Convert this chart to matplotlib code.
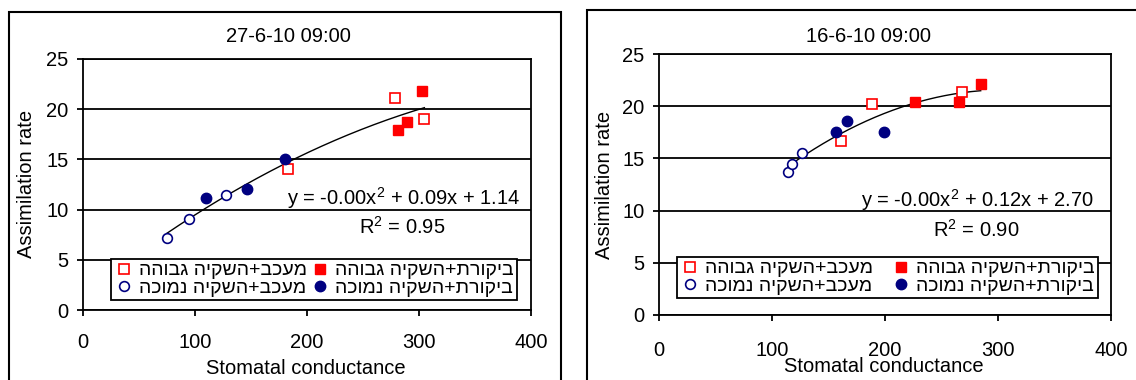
import numpy as np
import matplotlib
matplotlib.use("Agg")
import matplotlib.pyplot as plt
from matplotlib.lines import Line2D
from matplotlib.patches import Rectangle

plt.rcParams['font.family'] = ['Liberation Sans', 'DejaVu Sans']
plt.rcParams['mathtext.fontset'] = 'custom'
plt.rcParams['mathtext.rm'] = 'Liberation Sans'
plt.rcParams['mathtext.it'] = 'Liberation Sans'
plt.rcParams['mathtext.default'] = 'regular'

# ---- data -------------------------------------------------------------
series_names = ["מעכב+השקיה גבוהה", "מעכב+השקיה נמוכה",
                "ביקורת+השקיה גבוהה", "ביקורת+השקיה נמוכה"]

# 27-6-10 09:00
a_inh_high_x = [278.6, 304.8, 183.0]
a_inh_high_y = [21.1, 19.0, 14.07]
a_inh_low_x = [74.7, 94.4, 127.7]
a_inh_low_y = [7.14, 9.1, 11.45]
a_ctl_high_x = [302.4, 289.6, 281.5]
a_ctl_high_y = [21.8, 18.7, 17.9]
a_ctl_low_x = [109.8, 146.7, 180.1]
a_ctl_low_y = [11.15, 12.05, 15.0]

# 16-6-10 09:00
b_inh_high_x = [188.2, 161.1, 268.4]
b_inh_high_y = [20.24, 16.67, 21.39]
b_inh_low_x = [114.2, 118.0, 126.8]
b_inh_low_y = [13.73, 14.43, 15.49]
b_ctl_high_x = [226.8, 265.2, 284.7]
b_ctl_high_y = [20.4, 20.37, 22.16]
b_ctl_low_x = [156.9, 166.4, 199.4]
b_ctl_low_y = [17.56, 18.58, 17.56]

titles = ["27-6-10 09:00", "16-6-10 09:00"]
equations = ["y = -0.00x$^{2}$ + 0.09x + 1.14", "y = -0.00x$^{2}$ + 0.12x + 2.70"]
r2_labels = ["R$^{2}$ = 0.95", "R$^{2}$ = 0.90"]
x_ticks = [0, 100, 200, 300, 400]
y_ticks = [0, 5, 10, 15, 20, 25]
x_label = "Stomatal conductance"
y_label = "Assimilation rate"

RED = "#FF0000"
NAVY = "#000080"
W, H = 1136, 380


def visual(s):
    # matplotlib has no bidi support: lay Hebrew out right-to-left by hand
    return s[::-1]


fig = plt.figure(figsize=(W / 100, H / 100), dpi=100)
fig.patch.set_facecolor("white")


def px(x0, y0, x1, y1):
    return [x0 / W, 1 - y1 / H, (x1 - x0) / W, (y1 - y0) / H]


# outer chart borders
fig.add_artist(Rectangle((9 / W, -0.05), (561 - 9) / W, 1 - 12 / H + 0.05,
                         transform=fig.transFigure, fill=False,
                         edgecolor="black", lw=1.5))
fig.add_artist(Rectangle((587 / W, -0.05), 0.5, 1 - 10 / H + 0.05,
                         transform=fig.transFigure, fill=False,
                         edgecolor="black", lw=1.5))

panels = [
    dict(rect=px(83, 59, 531, 310),
         data=[(a_inh_high_x, a_inh_high_y), (a_inh_low_x, a_inh_low_y),
               (a_ctl_high_x, a_ctl_high_y), (a_ctl_low_x, a_ctl_low_y)],
         title_xy=(288, 37), ylab_xy=(27, 184), xlab_xy=(306, 368),
         tickpad=12, eq_xy=(520, 198), r2_xy=(402, 227),
         leg=(111, 250, 517, 300)),
    dict(rect=px(659, 54, 1111, 315),
         data=[(b_inh_high_x, b_inh_high_y), (b_inh_low_x, b_inh_low_y),
               (b_ctl_high_x, b_ctl_high_y), (b_ctl_low_x, b_ctl_low_y)],
         title_xy=(868, 36), ylab_xy=(604, 185), xlab_xy=(884, 367),
         tickpad=14, eq_xy=(1094, 200), r2_xy=(976, 230),
         leg=(677, 247, 1098, 298)),
]

styles = [
    dict(marker="s", mfc="white", mec=RED, ms=7, mew=1.2),
    dict(marker="o", mfc="white", mec=NAVY, ms=7, mew=1.2),
    dict(marker="s", mfc=RED, mec=RED, ms=7.5, mew=1.0),
    dict(marker="o", mfc=NAVY, mec=NAVY, ms=7.5, mew=1.0),
]

FS = 14.5

for i, p in enumerate(panels):
    ax = fig.add_axes(p["rect"])
    ax.set_xlim(0, 400)
    ax.set_ylim(0, 25)
    ax.set_xticks(x_ticks)
    ax.set_yticks(y_ticks)
    ax.tick_params(axis="both", direction="out", length=4.5, width=1.3,
                   labelsize=FS, color="black")
    ax.tick_params(axis="y", pad=6)
    ax.tick_params(axis="x", pad=p["tickpad"])
    for sp in ax.spines.values():
        sp.set_linewidth(1.3)
        sp.set_color("black")
    ax.yaxis.grid(True, color="black", lw=1.3)
    ax.set_axisbelow(True)

    all_x, all_y = [], []
    handles = []
    for (xs, ys), st in zip(p["data"], styles):
        ax.plot(xs, ys, ls="none", zorder=3, **st)
        handles.append(Line2D([], [], ls="none", **st))
        all_x += xs
        all_y += ys

    # second-order polynomial trend line
    coef = np.polyfit(all_x, all_y, 2)
    xx = np.linspace(min(all_x), max(all_x), 200)
    ax.plot(xx, np.polyval(coef, xx), color="black", lw=1.0, zorder=2)

    fig.text(p["eq_xy"][0] / W, 1 - p["eq_xy"][1] / H, equations[i],
             ha="right", va="center", fontsize=FS)
    fig.text(p["r2_xy"][0] / W, 1 - p["r2_xy"][1] / H, r2_labels[i],
             ha="center", va="center", fontsize=FS)

    fig.text(p["title_xy"][0] / W, 1 - p["title_xy"][1] / H, titles[i],
             ha="center", va="center", fontsize=FS)
    fig.text(p["ylab_xy"][0] / W, 1 - p["ylab_xy"][1] / H, y_label,
             ha="center", va="center", rotation=90, fontsize=FS)
    fig.text(p["xlab_xy"][0] / W, 1 - p["xlab_xy"][1] / H, x_label,
             ha="center", va="center", fontsize=FS)

    # legend box in axes coordinates
    x0, y0, x1, y1 = p["leg"]
    pos = p["rect"]
    bx = (x0 / W - pos[0]) / pos[2]
    bw = (x1 - x0) / W / pos[2]
    by = ((1 - y1 / H) - pos[1]) / pos[3]
    bh = (y1 - y0) / H / pos[3]
    leg = ax.legend(handles, [visual(s) for s in series_names], ncol=2,
                    loc="lower left", bbox_to_anchor=(bx, by, bw, bh),
                    mode="expand", fontsize=FS - 0.5, frameon=True,
                    fancybox=False, framealpha=1, edgecolor="black",
                    borderpad=0.15, labelspacing=0.0, handletextpad=0.3,
                    handlelength=1.0, columnspacing=1.0, borderaxespad=0)
    leg.get_frame().set_linewidth(1.3)
    leg.set_zorder(5)

fig.savefig("out.png", dpi=100, facecolor="white")
